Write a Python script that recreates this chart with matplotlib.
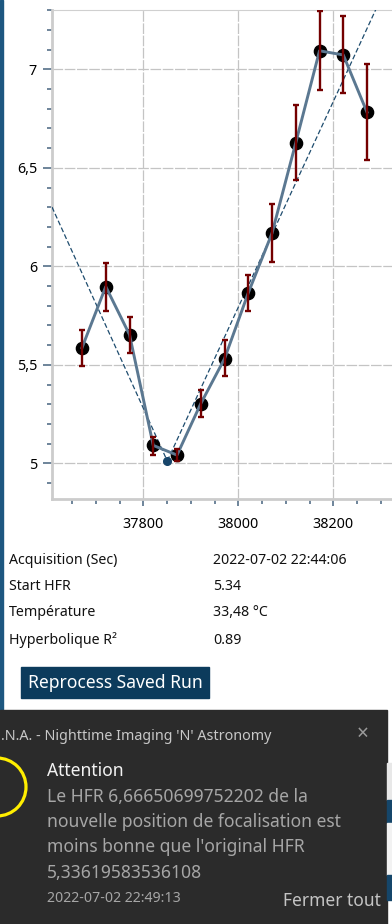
import matplotlib
matplotlib.use("Agg")
import matplotlib.pyplot as plt
import numpy as np
from matplotlib.patches import Rectangle, Circle
from matplotlib.ticker import MultipleLocator, FuncFormatter

plt.rcParams['font.family'] = ['Noto Sans', 'DejaVu Sans']

# ---- data ----
focus_pos = [37671, 37721, 37771, 37821, 37871, 37921, 37971, 38021, 38071, 38121, 38171, 38221, 38271]
hfr = [5.587, 5.897, 5.653, 5.091, 5.042, 5.303, 5.531, 5.865, 6.168, 6.627, 7.094, 7.073, 6.782]
err_hi = [5.677, 6.018, 5.744, 5.135, 5.073, 5.374, 5.626, 5.957, 6.318, 6.819, 7.297, 7.269, 7.029]
err_lo = [5.495, 5.773, 5.560, 5.044, 5.012, 5.237, 5.445, 5.775, 6.020, 6.438, 6.893, 6.880, 6.538]
min_pos = 37850.5
min_hfr = 5.012
left_slope = -0.00531
right_slope = 0.00522
x_ticks = [37800, 38000, 38200]
y_ticks = [5, 5.5, 6, 6.5, 7]
info_labels = ["Acquisition (Sec)", "Start HFR", "Température", "Hyperbolique R²"]
info_values = ["2022-07-02 22:44:06", "5.34", "33,48 °C", "0.89"]
notif_lines = ["Le HFR 6,66650699752202 de la",
               "nouvelle position de focalisation est",
               "moins bonne que l'original HFR",
               "5,33619583536108"]

W, H = 392, 924
fig = plt.figure(figsize=(W / 100, H / 100), dpi=100)
fig.patch.set_facecolor("white")

def fx(px):
    return px / W

def fy(py):
    return 1 - py / H

ax_l, ax_r, ax_t, ax_b = 52, 392, 10, 499
ax = fig.add_axes([fx(ax_l), fy(ax_b), (ax_r - ax_l) / W, (ax_b - ax_t) / H])
ax.set_xlim(37607.8, 38323.6)
ax.set_ylim(4.819, 7.301)

gridc = "#c4c4c4"
ax.set_xticks(x_ticks)
ax.set_yticks(y_ticks)
ax.xaxis.set_minor_locator(MultipleLocator(50))
ax.yaxis.set_minor_locator(MultipleLocator(0.1))
ax.yaxis.set_major_formatter(FuncFormatter(lambda v, p: (f"{v:g}").replace(".", ",")))
ax.grid(True, which="major", color=gridc, linestyle=(0, (8.5, 1.3)), linewidth=0.9, zorder=0)
tickc = "#557089"
ax.tick_params(axis="y", which="major", length=6.5, width=1.2, color=tickc, pad=4.3,
               labelsize=10.3, labelcolor="black")
ax.tick_params(axis="y", which="minor", length=3.6, width=1.2, color=tickc)
ax.tick_params(axis="x", which="major", length=5.2, width=1.2, color=tickc, pad=7.5,
               labelsize=10.3, labelcolor="black")
ax.tick_params(axis="x", which="minor", length=3.8, width=1.2, color=tickc)
for s in ["left", "bottom"]:
    ax.spines[s].set_color("#cccccc")
    ax.spines[s].set_linewidth(2.0)
ax.spines["right"].set_visible(False)
ax.spines["top"].set_color("#d0d0d0")
ax.spines["top"].set_linewidth(0.8)

# trend lines
xl = np.array([37607.8, min_pos])
ax.plot(xl, min_hfr + left_slope * (xl - min_pos), color="#1e4c6e", lw=0.9,
        ls=(0, (4, 2)), zorder=3)
xr = np.array([min_pos, 38323.6])
ax.plot(xr, min_hfr + right_slope * (xr - min_pos), color="#1e4c6e", lw=0.9,
        ls=(0, (4, 2)), zorder=3)

# points
ax.plot(focus_pos, hfr, "o", color="black", ms=8.8, zorder=4)
ax.plot(focus_pos, hfr, "-", color="#5b7891", lw=2.1, zorder=5)
yerr = [np.array(hfr) - np.array(err_lo), np.array(err_hi) - np.array(hfr)]
ax.errorbar(focus_pos, hfr, yerr=yerr, fmt="none", ecolor="#740000", elinewidth=1.7,
            capsize=2.0, capthick=1.7, zorder=6)
ax.plot([min_pos], [min_hfr], "o", color="#17456a", ms=5.5, zorder=7)

# ---- overlay in pixel coordinates ----
ov = fig.add_axes([0, 0, 1, 1])
ov.set_xlim(0, W)
ov.set_ylim(H, 0)
ov.axis("off")
ov.patch.set_alpha(0)

# left window border
ov.add_patch(Rectangle((0, 0), 2.6, 710, color="#1d5780", zorder=1))

row_y = [561, 587, 613, 640]
for lab, val, yy in zip(info_labels, info_values, row_y):
    ov.text(9, yy, lab, fontsize=10.2, va="center", ha="left", color="#111111")
    ov.text(213, yy, val, fontsize=10.2, va="center", ha="left", color="#111111")

ov.add_patch(Rectangle((21, 667), 188, 31, color="#0c3b5c", zorder=1))
ov.text(115, 683, "Reprocess Saved Run", fontsize=12.6, color="white", ha="center",
        va="center", zorder=2)

# notification
ov.add_patch(Rectangle((0, 710), 387, 214, color="#2b2b2b", zorder=1))
# background bits at right edge
ov.add_patch(Rectangle((387, 763), 5, 37, color="#e8e8e8", zorder=1))
ov.add_patch(Rectangle((387, 800), 5, 23, color="#15466a", zorder=1))
ov.add_patch(Rectangle((387, 823), 5, 52, color="#f2f2f2", zorder=1))
ov.add_patch(Rectangle((387, 875), 5, 25, color="#15466a", zorder=1))

ov.text(1, 736, ".N.A. - Nighttime Imaging 'N' Astronomy", fontsize=10.3, color="#c8c8c8",
        ha="left", va="center", zorder=2)
ov.text(363, 734, "×", fontsize=15, color="#9a9a9a", ha="center", va="center", zorder=2,
        fontweight="light")
ov.add_patch(Circle((-3, 787), 29, fill=False, edgecolor="#ffee00", lw=2.3, zorder=2))
ov.text(47, 771, "Attention", fontsize=12.6, color="#f2f2f2", ha="left", va="center", zorder=2)
for i, line in enumerate(notif_lines):
    ov.text(47, 797 + i * 25.2, line, fontsize=12.6, color="#a6a6a6", ha="left",
            va="center", zorder=2)
ov.text(47, 899, "2022-07-02 22:49:13", fontsize=10.2, color="#a6a6a6", ha="left",
        va="center", zorder=2)
ov.text(381, 901, "Fermer tout", fontsize=12.5, color="#c4c4c4", ha="right",
        va="center", zorder=2)

fig.savefig("out.png", dpi=100)
